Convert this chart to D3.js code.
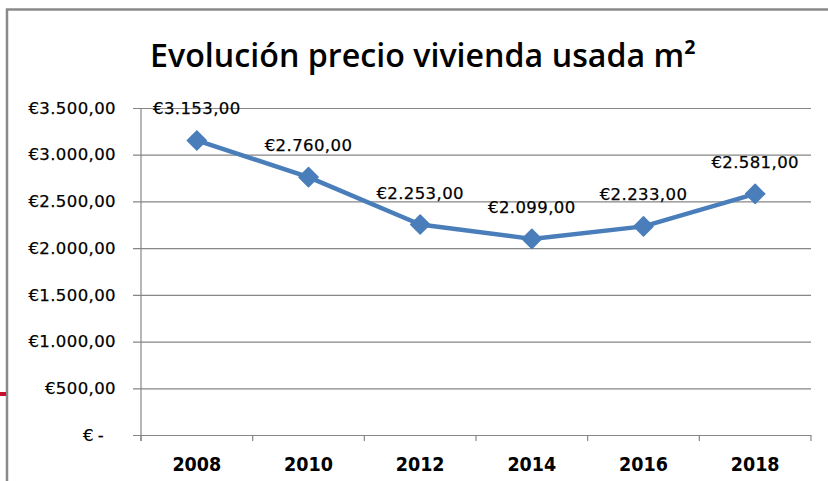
<!DOCTYPE html>
<html>
<head>
<meta charset="utf-8">
<script src="https://cdn.jsdelivr.net/npm/d3@7"></script>
<style>
  body { margin: 0; background: #fff; }
  svg { display: block; }
</style>
</head>
<body>
<div id="chart"></div>
<script>
// data
var years = ["2008", "2010", "2012", "2014", "2016", "2018"];
var prices = [3153, 2760, 2253, 2099, 2233, 2581];
var yTicks = [0, 500, 1000, 1500, 2000, 2500, 3000, 3500];
var title = "Evolución precio vivienda usada m²";

var width = 828, height = 481;

var svg = d3.select("#chart").append("svg")
    .attr("width", width)
    .attr("height", height);

// outer frame (only left and top show in the crop)
svg.append("path")
    .attr("d", "M7,481 V9.5 H828")
    .attr("fill", "none")
    .attr("stroke", "#8a8a8a")
    .attr("stroke-width", 2.5);
// little red mark on the left edge
svg.append("rect")
    .attr("x", 0).attr("y", 392)
    .attr("width", 6).attr("height", 4)
    .attr("fill", "#c8102e");

var x = d3.scaleBand().domain(years).range([141, 811]).padding(0);
var y = d3.scaleLinear().domain([0, 3500]).range([435, 108]);

// fmt like excel accounting: €3.500,00
function euro(v) {
  if (v === 0) return "€\u2009-";
  var s = d3.format(",.2f")(v);
  return "€" + s.replace(/,/g, "#").replace(".", ",").replace(/#/g, ".");
}

// grid lines + y ticks
var yAxis = d3.axisLeft(y)
    .tickValues(yTicks)
    .tickSize(-(811 - 133))
    .tickPadding(17)
    .tickFormat(euro);

var gy = svg.append("g")
    .attr("transform", "translate(133,0)")
    .call(yAxis);
gy.select(".domain").remove();
gy.selectAll(".tick line")
    .attr("stroke", "#868686")
    .attr("stroke-width", 1.2);
gy.selectAll(".tick text")
    .attr("font-family", "DejaVu Sans, sans-serif")
    .attr("font-size", 16.5)
    .attr("letter-spacing", 0.4)
    .attr("fill", "#000")
    .attr("stroke", "#000")
    .attr("stroke-width", 0.25)
    .attr("dx", function(d) { return d === 0 ? -12 : 0; });

// vertical axis line
svg.append("line")
    .attr("x1", 141).attr("x2", 141)
    .attr("y1", y(3500)).attr("y2", 441)
    .attr("stroke", "#868686")
    .attr("stroke-width", 1.2);

// x axis ticks at category boundaries
var bounds = years.map(function(d) { return x(d); }).concat([x.range()[1]]);
svg.selectAll(".xtick").data(bounds).enter().append("line")
    .attr("class", "xtick")
    .attr("x1", function(d) { return d; })
    .attr("x2", function(d) { return d; })
    .attr("y1", y(0)).attr("y2", 441)
    .attr("stroke", "#868686")
    .attr("stroke-width", 1.2);

svg.selectAll(".xlab").data(years).enter().append("text")
    .attr("class", "xlab")
    .attr("x", function(d) { return x(d) + x.bandwidth() / 2; })
    .attr("y", 471)
    .attr("text-anchor", "middle")
    .attr("font-family", "Liberation Sans Narrow, DejaVu Sans Condensed, Arial Narrow, sans-serif")
    .attr("font-weight", "bold")
    .attr("font-size", 19.5)
    .attr("fill", "#000")
    .text(function(d) { return d; });

// title
svg.append("text")
    .attr("x", 423)
    .attr("y", 67)
    .attr("text-anchor", "middle")
    .attr("font-family", "Open Sans, sans-serif")
    .attr("font-weight", "600")
    .attr("font-size", 32)
    .attr("textLength", 546)
    .attr("lengthAdjust", "spacingAndGlyphs")
    .attr("fill", "#000")
    .text(title);

// series
var pts = years.map(function(d, i) {
  return { year: d, v: prices[i] };
});
var line = d3.line()
    .x(function(d) { return x(d.year) + x.bandwidth() / 2; })
    .y(function(d) { return y(d.v); });

svg.append("path")
    .datum(pts)
    .attr("d", line)
    .attr("fill", "none")
    .attr("stroke", "#4a7ebb")
    .attr("stroke-width", 4.5)
    .attr("stroke-linejoin", "round");

var diamond = d3.symbol().type(d3.symbolDiamond2).size(230);
svg.selectAll(".mk").data(pts).enter().append("path")
    .attr("class", "mk")
    .attr("transform", function(d) {
      return "translate(" + (x(d.year) + x.bandwidth() / 2) + "," + y(d.v) + ")";
    })
    .attr("d", diamond)
    .attr("fill", "#4a7ebb")
    .attr("stroke", "#4a7ebb")
    .attr("stroke-width", 1.5)
    .attr("stroke-linejoin", "round");

// data labels
svg.selectAll(".lab").data(pts).enter().append("text")
    .attr("class", "lab")
    .attr("x", function(d) { return x(d.year) + x.bandwidth() / 2; })
    .attr("y", function(d) { return y(d.v) - 26; })
    .attr("text-anchor", "middle")
    .attr("font-family", "DejaVu Sans, sans-serif")
    .attr("font-size", 16.5)
    .attr("letter-spacing", 0.4)
    .attr("fill", "#000")
    .attr("stroke", "#000")
    .attr("stroke-width", 0.25)
    .text(function(d) { return euro(d.v); });
</script>
</body>
</html>
